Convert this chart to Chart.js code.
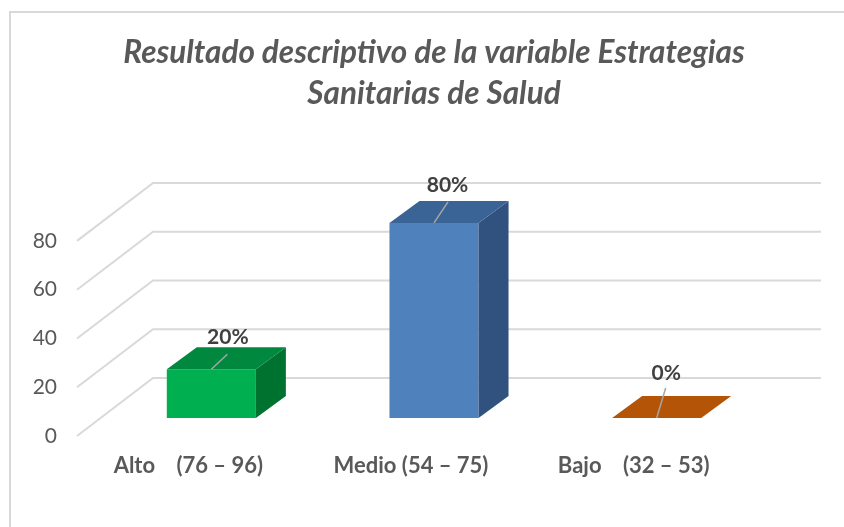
<!DOCTYPE html>
<html><head><meta charset="utf-8">
<script src="https://cdn.jsdelivr.net/npm/chart.js@4.4.1/dist/chart.umd.min.js"></script>
<style>html,body{margin:0;padding:0;background:#fff;}</style>
</head><body>
<canvas id="c" width="844" height="527"></canvas>
<script>
const categories = ['Alto    (76 – 96)', 'Medio (54 – 75)', 'Bajo    (32 – 53)'];
const values = [20, 80, 0];
const valueLabels = ['20%', '80%', '0%'];
const yTicks = [0, 20, 40, 60, 80];
const titleLines = ['Resultado descriptivo de la variable Estrategias', 'Sanitarias de Salud'];
const frontColors = ['#00B050', '#4F81BD', '#C55A11'];
const topColors = ['#00893E', '#3A6496', '#B35406'];
const sideColors = ['#00722F', '#31527E', '#8E4208'];

const FONT = 'Lato, "Open Sans", sans-serif';

const threeD = {
  id: 'threeD',
  beforeDraw(chart) {
    const ctx = chart.ctx;
    ctx.save();
    ctx.fillStyle = '#ffffff';
    ctx.fillRect(0, 0, chart.width, chart.height);
    ctx.strokeStyle = '#d9d9d9';
    ctx.lineWidth = 2;
    ctx.beginPath();
    ctx.moveTo(10, chart.height);
    ctx.lineTo(10, 12);
    ctx.lineTo(chart.width, 12);
    ctx.stroke();
    ctx.restore();
  },
  beforeDatasetsDraw(chart, args, o) {
    const { ctx, chartArea: a, scales: { y } } = chart;
    ctx.save();
    ctx.strokeStyle = '#d9d9d9';
    ctx.lineWidth = 2;
    yTicks.forEach(v => {
      const py = y.getPixelForValue(v);
      ctx.beginPath();
      ctx.moveTo(a.left + o.wallFront.dx, py + o.wallFront.dy);
      ctx.lineTo(a.left + o.wallBack.dx, py + o.wallBack.dy);
      ctx.lineTo(a.right + o.wallBack.dx, py + o.wallBack.dy);
      ctx.stroke();
    });
    ctx.restore();
  },
  afterDatasetsDraw(chart, args, o) {
    const ctx = chart.ctx;
    const meta = chart.getDatasetMeta(0);
    const dx = o.depth.dx, dy = o.depth.dy;
    ctx.save();
    meta.data.forEach((bar, i) => {
      const p = bar.getProps(['x', 'y', 'base', 'width'], true);
      const l = p.x - p.width / 2, r = p.x + p.width / 2, t = p.y, b = p.base;
      if (b - t > 0.5) {
        ctx.fillStyle = sideColors[i];
        ctx.beginPath();
        ctx.moveTo(r, t); ctx.lineTo(r + dx, t + dy); ctx.lineTo(r + dx, b + dy); ctx.lineTo(r, b);
        ctx.closePath(); ctx.fill();
      }
      ctx.fillStyle = topColors[i];
      ctx.beginPath();
      ctx.moveTo(l, t); ctx.lineTo(r, t); ctx.lineTo(r + dx, t + dy); ctx.lineTo(l + dx, t + dy);
      ctx.closePath(); ctx.fill();
    });
    meta.data.forEach((bar, i) => {
      const p = bar.getProps(['x', 'y'], true);
      const off = o.labelOffsets[i];
      ctx.strokeStyle = '#a6a6a6';
      ctx.lineWidth = 1.5;
      ctx.beginPath();
      ctx.moveTo(p.x, p.y);
      ctx.lineTo(p.x + off.lx, p.y + off.ly);
      ctx.stroke();
      ctx.fillStyle = '#404040';
      ctx.font = 'bold 21px ' + FONT;
      ctx.textAlign = 'center';
      ctx.textBaseline = 'middle';
      ctx.fillText(valueLabels[i], p.x + off.tx, p.y + off.ty);
    });
    ctx.restore();
  }
};

new Chart(document.getElementById('c'), {
  type: 'bar',
  data: {
    labels: categories,
    datasets: [{
      data: values,
      backgroundColor: frontColors,
      borderWidth: 0,
      barPercentage: 0.4,
      categoryPercentage: 1.0
    }]
  },
  options: {
    responsive: false,
    devicePixelRatio: 1,
    animation: false,
    layout: { padding: { left: 0, right: 76, top: 0, bottom: 0 } },
    plugins: {
      legend: { display: false },
      tooltip: { enabled: false },
      title: {
        display: true,
        text: titleLines,
        fullSize: false,
        color: '#595959',
        font: { family: FONT, size: 31.5, weight: 'bold', style: 'italic', lineHeight: 1.3 },
        padding: { top: 32, bottom: 109 }
      },
      threeD: {
        depth: { dx: 30, dy: -22 },
        wallFront: { dx: -23, dy: 18 },
        wallBack: { dx: 53, dy: -40 },
        labelOffsets: [
          { lx: 16, ly: -15, tx: 16.5, ty: -32 },
          { lx: 14, ly: -21, tx: 13.5, ty: -38 },
          { lx: 9, ly: -30, tx: 9.5, ty: -45 }
        ]
      }
    },
    scales: {
      x: {
        grid: { display: false },
        border: { display: false },
        ticks: {
          color: '#595959',
          font: { family: FONT, size: 22, weight: 'bold' },
          padding: 27,
          labelOffset: -23,
          maxRotation: 0,
          autoSkip: false
        },
        afterFit(s) { s.height = 109; }
      },
      y: {
        min: 0,
        max: 80,
        grid: { display: false },
        border: { display: false },
        ticks: {
          stepSize: 20,
          color: '#595959',
          font: { family: FONT, size: 21 },
          padding: 35,
          labelOffset: 18
        },
        afterFit(s) { s.width = 100; }
      }
    }
  },
  plugins: [threeD]
});
</script>
</body></html>
